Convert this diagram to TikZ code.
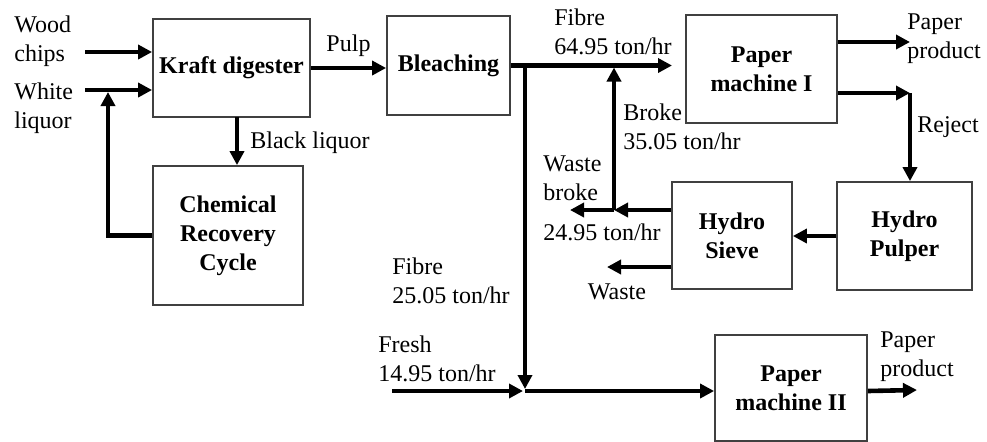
\documentclass[tikz,border=0pt]{standalone}
\usepackage{fontspec}
\setmainfont{Liberation Serif}
\usetikzlibrary{arrows.meta}

\begin{document}
\begin{tikzpicture}[
  x=0.5pt, y=-0.5pt,
  font=\fontsize{12}{14.5}\selectfont,
  unit/.style 2 args={
    rectangle,
    draw=black!75,
    line width=0.9pt,
    minimum width=#1,
    minimum height=#2,
    align=center,
    inner sep=2pt,
    font=\fontsize{12}{14.5}\selectfont\bfseries
  },
  flow/.style={-{Triangle[length=7pt,width=7pt]}, line width=2.3pt},
  lbl/.style={align=left, inner sep=0pt, anchor=west}
]
  \useasboundingbox (0,0) rectangle (987,441);

  % process units
  \node[unit={78.5pt}{49pt}] (digester) at (231.5,68) {Kraft digester};
  \node[unit={75pt}{69.5pt}] (recovery) at (228,235.5) {Chemical\\Recovery\\Cycle};
  \node[unit={61.5pt}{49.5pt}] (bleach) at (448.5,65.5) {Bleaching};
  \node[unit={75.5pt}{54pt}] (pm1) at (761.5,69) {Paper\\machine I};
  \node[unit={67.5pt}{54pt}] (pulper) at (904.5,236) {Hydro\\Pulper};
  \node[unit={60pt}{53.5pt}] (sieve) at (732,235.5) {Hydro\\Sieve};
  \node[unit={76pt}{53pt}] (pm2) at (791,388) {Paper\\machine II};

  % free ends and junctions
  \coordinate (woodin) at (85,52);
  \coordinate (whitein) at (85,90);
  \coordinate (wlj) at (108,90);
  \coordinate (blackout) at (237,117);
  \coordinate (fibreend) at (672,65.5);
  \coordinate (mix) at (525,391);
  \coordinate (freshin) at (392,391);
  \coordinate (prod1end) at (910,42);
  \coordinate (rejectbend) at (910,93);
  \coordinate (brokej) at (614,210);
  \coordinate (wbend) at (570,210);
  \coordinate (wasteend) at (607,267);
  \coordinate (prod2end) at (917,390);

  % stream labels
  \node[lbl] (woodlbl) at (14,41) {Wood\\chips};
  \node[lbl] (whitelbl) at (14,108) {White\\liquor};
  \node[lbl] (blacklbl) at (250,143) {Black liquor};
  \node[lbl] (fibre1lbl) at (554,32) {Fibre\\64.95 ton/hr};
  \node[lbl] (brokelbl) at (623,127) {Broke\\35.05 ton/hr};
  \node[lbl] (wbrokelbl) at (543,178) {Waste\\broke};
  \node[lbl] (wbraterlbl) at (543,232) {24.95 ton/hr};
  \node (wastelbl) at (617,292) {Waste};
  \node[lbl] (fibre2lbl) at (392,281) {Fibre\\25.05 ton/hr};
  \node[lbl] (freshlbl) at (378,359) {Fresh\\14.95 ton/hr};
  \node[lbl] (prod1lbl) at (907,39) {Paper\\product};
  \node[lbl] (rejectlbl) at (917,127) {Reject};
  \node[lbl] (prod2lbl) at (880,357) {Paper\\product};

  % pulping line
  \draw[flow] (woodin) -- (woodin -| digester.west);
  \draw[flow] (whitein) -- (whitein -| digester.west);
  \draw[flow] (recovery.west) -| ([yshift=-1pt]wlj);
  \draw[flow] (blackout) -- (blackout |- recovery.north);
  \draw[flow] (digester.east) -- (digester.east -| bleach.west)
    node[midway, above=1pt] (pulplbl) {Pulp};
  \draw[flow] (bleach.east) -- (fibreend);
  \draw[flow] (bleach.east -| mix) -- ([yshift=1pt]mix);
  \draw[flow] (freshin) -- ([xshift=-1pt]mix);
  \draw[flow] (mix) -- (mix -| pm2.west);
  \draw[flow] (pm2.east |- mix) -- (prod2end);

  % broke recycle
  \draw[flow] (prod1end -| pm1.east) -- (prod1end);
  \draw[flow] (rejectbend -| pm1.east) -- (rejectbend);
  \draw[flow] (rejectbend) -- (rejectbend |- pulper.north);
  \draw[flow] (pulper.west) -- (pulper.west -| sieve.east);
  \draw[flow] (brokej -| sieve.west) -- (brokej);
  \draw[flow] (brokej) -- (wbend);
  \draw[flow] (brokej) -- ([yshift=-1pt]brokej |- bleach.east);
  \draw[flow] (wasteend -| sieve.west) -- (wasteend);
\end{tikzpicture}
\end{document}
